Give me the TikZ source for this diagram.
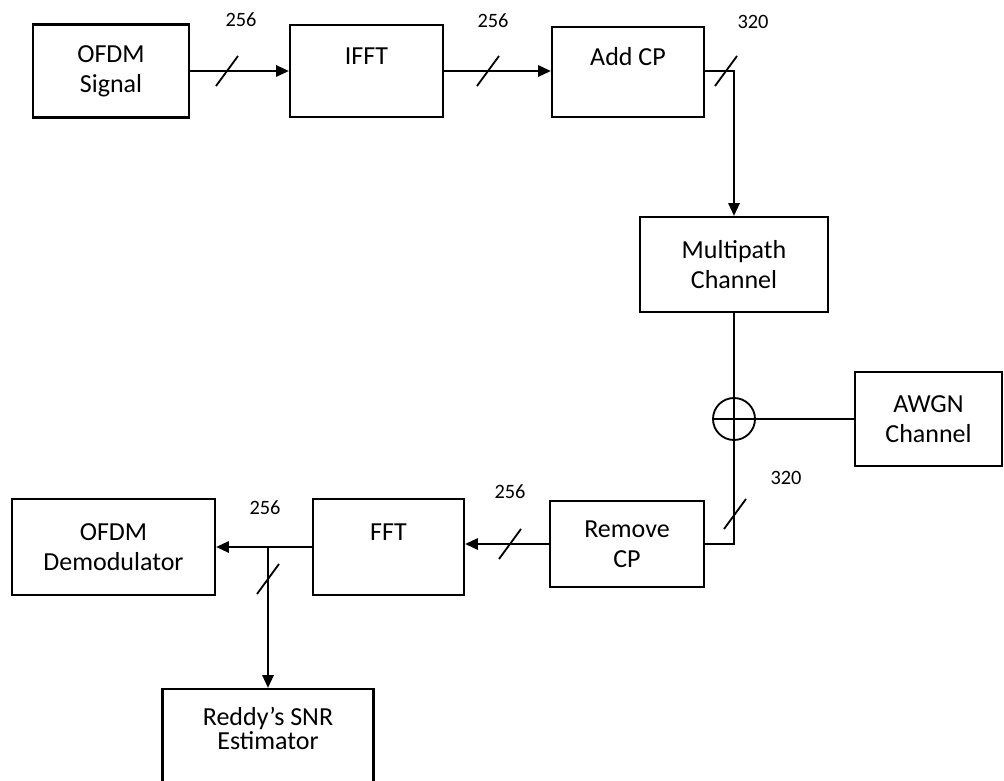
\documentclass[tikz,border=0pt]{standalone}
\usepackage{fontspec}
\setmainfont{Carlito}
\usetikzlibrary{arrows.meta}

\tikzset{
  blockbox/.style={draw=black,line width=1.6pt,inner sep=0pt,align=center,
                   font=\fontsize{18.5}{21.5}\selectfont},
  buslabel/.style={inner sep=0pt,font=\fontsize{14.5}{17}\selectfont},
  flow/.style={line width=1.3pt},
  flowarrow/.style={flow,-{Triangle[length=9pt,width=8pt]}},
  busmark/.style={line width=1.3pt}
}

\begin{document}
\begin{tikzpicture}[x=0.25mm,y=-0.25mm]
    \useasboundingbox (0,0) rectangle (1004,781);
    % transmitter row
    \node[blockbox,minimum width=3.9cm,minimum height=2.325cm] (signal) at (111,71)
          {OFDM\\Signal};
    \node[blockbox,minimum width=3.825cm,minimum height=2.3cm] (ifft) at (366.5,71)
          {IFFT\\~};
    \node[blockbox,minimum width=3.8cm,minimum height=2.25cm] (addcp) at (628,72)
          {Add CP\\~};
    % channel
    \node[blockbox,minimum width=4.7cm,minimum height=2.375cm] (multipath) at (734,264.5)
          {Multipath\\Channel};
    \node[draw=black,line width=1.3pt,circle,inner sep=0pt,minimum size=1.05cm] (adder) at (734,419) {};
    \node[blockbox,minimum width=3.675cm,minimum height=2.35cm] (awgn) at (928.5,419)
          {AWGN\\Channel};
    % receiver row
    \node[blockbox,minimum width=3.85cm,minimum height=2.15cm] (removecp) at (627,544)
          {Remove\\CP};
    \node[blockbox,minimum width=3.775cm,minimum height=2.4cm] (fft) at (388.5,547)
          {FFT\\~};
    \node[blockbox,minimum width=5.075cm,minimum height=2.4cm] (demod) at (113.5,547)
          {OFDM\\Demodulator};
    \node[blockbox,minimum width=5.275cm,minimum height=2.4cm] (reddy) at (268,737)
          {Reddy's SNR\\[-4.5pt]Estimator\\[-9pt]~};

    % bus widths
    \node[buslabel] (w1) at (241,20) {256};
    \node[buslabel] (w2) at (493,21) {256};
    \node[buslabel] (w3) at (753,22) {320};
    \node[buslabel] (w4) at (786,478) {320};
    \node[buslabel] (w5) at (510,492) {256};
    \node[buslabel] (w6) at (265,508) {256};

    \coordinate (m1) at (227,71);
    \coordinate (m2) at (488,71);
    \coordinate (m3) at (726,71);
    \coordinate (m4) at (735,514);
    \coordinate (m5) at (510,544);
    \coordinate (m6) at (268,579);
    \coordinate (split) at (268,547);

    % connectors
    \draw[flowarrow] (signal.east) -- (signal.east -| ifft.west);
    \draw[flowarrow] (ifft.east) -- (ifft.east -| addcp.west);
    \draw[flowarrow] (addcp.east |- ifft.east) -| (multipath.north);
    \draw[flow] (multipath.south) -- (adder.north);
    \draw[flow] (adder.north) -- (adder.south);
    \draw[flow] (adder.west) -- (adder.east);
    \draw[flow] (awgn.west) -- (adder.east);
    \draw[flow] (adder.south) |- (removecp.east);
    \draw[flowarrow] (removecp.west) -- (removecp.west -| fft.east);
    \draw[flowarrow] (fft.west) -- (demod.east);
    \draw[flowarrow] (split) -- (reddy.north);

    % bus slashes
    \foreach \m in {m1,m2,m3,m4,m5,m6}
      \draw[busmark] ([shift={(-11,15)}]\m) -- ([shift={(11,-15)}]\m);
  \end{tikzpicture}
\end{document}
